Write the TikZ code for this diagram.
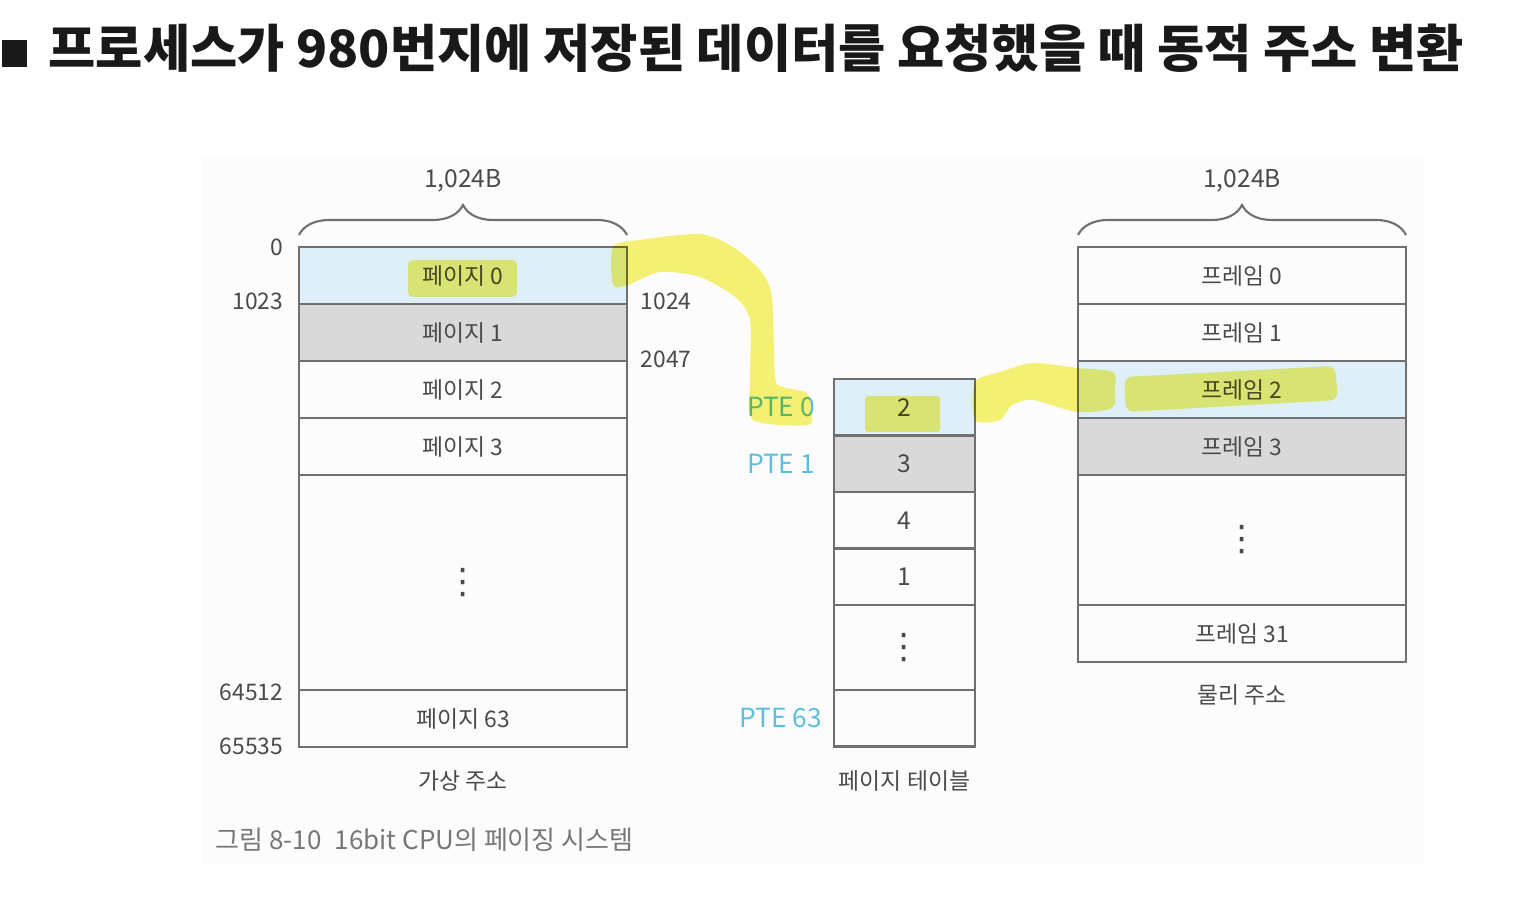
\documentclass[tikz,border=0pt]{standalone}
\usepackage{fontspec}
\setmainfont{Noto Sans CJK KR}
\newfontfamily\symfont{DejaVu Sans}
\usetikzlibrary{positioning,decorations.pathreplacing,calc}
\definecolor{inkgray}{RGB}{74,74,74}
\definecolor{rulegray}{RGB}{112,112,112}
\definecolor{cellblue}{RGB}{222,239,249}
\definecolor{cellgray}{RGB}{217,217,217}
\definecolor{ptecyan}{RGB}{95,190,222}
\definecolor{marker}{RGB}{247,243,118}
\definecolor{backwash}{RGB}{252,252,252}
\colorlet{capgray}{inkgray!75!white}
\newcommand{\vellip}{{\symfont\fontsize{10}{10}\selectfont ⋮}}

\begin{document}
\begin{tikzpicture}[
  cell/.style={draw=rulegray, line width=0.7pt, outer sep=0pt, inner sep=0pt,
    minimum width=3.28cm, minimum height=0.57cm,
    font=\fontsize{6.5}{8}\selectfont, text=inkgray},
  ptecell/.style={cell, minimum width=1.41cm, minimum height=0.565cm,
    font=\fontsize{7}{8}\selectfont},
  addr/.style={font=\fontsize{6.5}{8}\selectfont, text=inkgray, inner sep=0pt},
  ptelabel/.style={font=\fontsize{7.5}{9}\selectfont, text=ptecyan, inner sep=0pt},
  bytebrace/.style={draw=rulegray, line width=0.6pt, decorate,
    decoration={brace, amplitude=3mm}},
  hl/.style={fill=marker, blend mode=multiply},
]
  \useasboundingbox (0,0) rectangle (15.3,-8.99);
  \fill[backwash] (2.02,-1.55) rectangle (14.25,-8.65);

  \fill[black!90] (0.02,-0.40) rectangle (0.27,-0.67);
  \node[anchor=base west, inner sep=0pt, font=\fontsize{14.6}{17}\selectfont\bfseries,
    text=black!90] (title) at (0.48,-0.675)
    {프로세스가 980번지에 저장된 데이터를 요청했을 때 동적 주소 변환};

  % virtual address space
  \node[cell, fill=cellblue, anchor=north west] (v0) at (2.99,-2.47) {페이지 0};
  \node[cell, fill=cellgray, below=0pt of v0] (v1) {페이지 1};
  \node[cell, below=0pt of v1] (v2) {페이지 2};
  \node[cell, below=0pt of v2] (v3) {페이지 3};
  \node[cell, minimum height=2.15cm, below=0pt of v3] (vdots) {\vellip};
  \node[cell, below=0pt of vdots] (v63) {페이지 63};

  \node[addr, left=1.5mm of v0.north west] (a0) {0};
  \node[addr, left=1.5mm of v0.south west, yshift=0.3mm] (a1023) {1023};
  \node[addr, left=1.5mm of vdots.south west, yshift=-0.2mm] (a64512) {64512};
  \node[addr, left=1.5mm of v63.south west, yshift=0.1mm] (a65535) {65535};
  \node[addr, right=1.3mm of v0.south east, yshift=0.3mm] (a1024) {1024};
  \node[addr, right=1.3mm of v1.south east, yshift=0.2mm] (a2047) {2047};

  \draw[bytebrace] ([yshift=1.2mm]v0.north west) -- ([yshift=1.2mm]v0.north east);
  \node[addr, font=\fontsize{7}{8}\selectfont] (vbyte) at ($(v0.north)+(0,0.66)$) {1,024B};
  \node[addr] (vname) at ($(v63.south)+(0,-0.34)$) {가상 주소};

  % page table
  \node[ptecell, fill=cellblue, anchor=north west] (t0) at (8.34,-3.79) {2};
  \node[ptecell, fill=cellgray, below=0pt of t0] (t1) {3};
  \node[ptecell, below=0pt of t1] (t2) {4};
  \node[ptecell, below=0pt of t2] (t3) {1};
  \node[ptecell, minimum height=0.85cm, below=0pt of t3] (tdots) {\vellip};
  \node[ptecell, below=0pt of tdots] (t63) {};

  \node[ptelabel] (p0) at ($(t0.west)+(-0.53,0)$) {PTE 0};
  \node[ptelabel] (p1) at ($(t1.west)+(-0.53,0)$) {PTE 1};
  \node[ptelabel] (p63) at ($(t63.west)+(-0.53,0)$) {PTE 63};
  \node[addr] (tname) at ($(t63.south)+(0,-0.34)$) {페이지 테이블};

  % physical memory
  \node[cell, anchor=north west] (f0) at (10.78,-2.47) {프레임 0};
  \node[cell, below=0pt of f0] (f1) {프레임 1};
  \node[cell, fill=cellblue, below=0pt of f1] (f2) {프레임 2};
  \node[cell, fill=cellgray, below=0pt of f2] (f3) {프레임 3};
  \node[cell, minimum height=1.30cm, below=0pt of f3] (fdots) {\vellip};
  \node[cell, below=0pt of fdots] (f31) {프레임 31};

  \draw[bytebrace] ([yshift=1.2mm]f0.north west) -- ([yshift=1.2mm]f0.north east);
  \node[addr, font=\fontsize{7}{8}\selectfont] (fbyte) at ($(f0.north)+(0,0.66)$) {1,024B};
  \node[addr] (fname) at ($(f31.south)+(0,-0.33)$) {물리 주소};

  \node[addr, anchor=west, text=capgray, font=\fontsize{7.4}{9}\selectfont] (cap)
    at (2.15,-8.40) {그림 8-10\enspace 16bit CPU의 페이징 시스템};

  % marker strokes
  \fill[hl, rounded corners=0.5mm] (4.08,-2.60) rectangle (5.17,-2.97);
  \fill[hl, rounded corners=0.3mm] (8.65,-3.96) rectangle (9.40,-4.32);
  \fill[hl, rounded corners=0.8mm] (11.24,-3.77) -- (13.35,-3.66) -- (13.38,-4.00)
    -- (11.26,-4.12) -- cycle;
  \fill[hl] plot[smooth cycle, tension=0.45] coordinates {
    (6.13,-2.47) (6.40,-2.40) (7.00,-2.34) (7.33,-2.47) (7.60,-2.70)
    (7.72,-2.97) (7.75,-3.77) (7.83,-3.87) (8.07,-3.93) (8.11,-4.10)
    (8.08,-4.25) (7.53,-4.20) (7.50,-3.80) (7.50,-3.20) (7.35,-2.97)
    (7.00,-2.77) (6.60,-2.72) (6.28,-2.85) (6.13,-2.85)};
  \fill[hl] plot[smooth cycle, tension=0.45] coordinates {
    (9.75,-3.82) (10.00,-3.72) (10.33,-3.63) (10.77,-3.68) (11.13,-3.72)
    (11.15,-3.90) (11.12,-4.08) (10.77,-4.12) (10.33,-4.00) (10.12,-4.05)
    (10.00,-4.20) (9.75,-4.20)};
\end{tikzpicture}
\end{document}
